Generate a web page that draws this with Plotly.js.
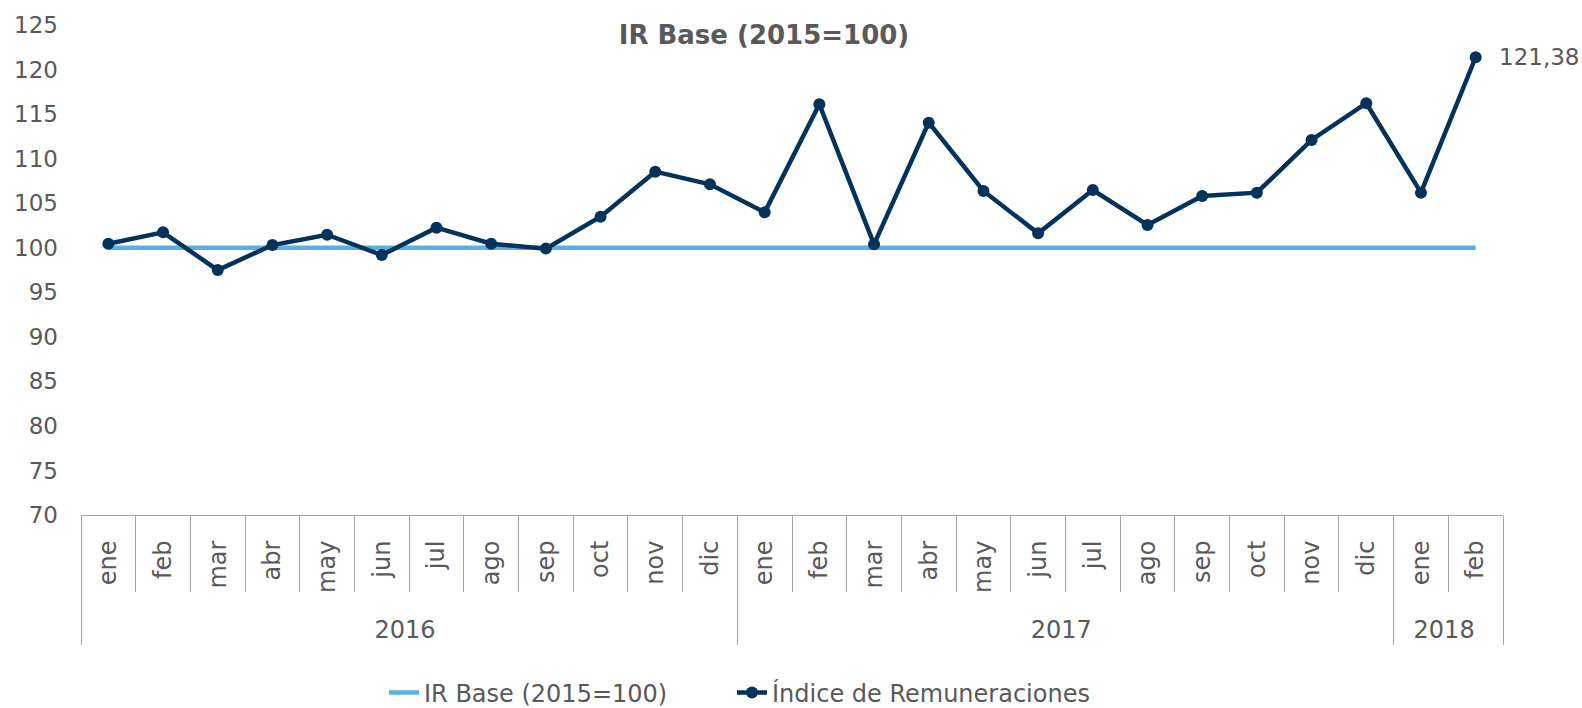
<!DOCTYPE html>
<html><head><meta charset="utf-8">
<script src="https://cdn.plot.ly/plotly-3.0.1.min.js"></script>
<style>html,body{margin:0;padding:0;background:#fff}#chart{width:1582px;height:708px}</style>
</head><body><div id="chart"></div>
<script>
const years = ['2016','2016','2016','2016','2016','2016','2016','2016','2016','2016','2016','2016',
               '2017','2017','2017','2017','2017','2017','2017','2017','2017','2017','2017','2017',
               '2018','2018'];
const months = ['ene','feb','mar','abr','may','jun','jul','ago','sep','oct','nov','dic',
                'ene','feb','mar','abr','may','jun','jul','ago','sep','oct','nov','dic',
                'ene','feb'];
const indiceRemuneraciones = [100.45,101.73,97.49,100.30,101.46,99.18,102.25,100.45,99.90,103.48,108.54,107.12,
                              103.97,116.11,100.38,114.04,106.37,101.62,106.48,102.55,105.81,106.18,112.10,116.22,
                              106.18,121.38];
const irBase = [100,100,100,100,100,100,100,100,100,100,100,100,
                100,100,100,100,100,100,100,100,100,100,100,100,
                100,100];
const yTicks = [70,75,80,85,90,95,100,105,110,115,120,125];

const gray = '#595959';
const fontFam = 'DejaVu Sans, sans-serif';
const n = months.length;
const boundaries = [];
for (let i = 0; i <= n; i++) boundaries.push(i - 0.5);
const lastIdx = n - 1;
const lastLabel = indiceRemuneraciones[lastIdx].toFixed(2).replace('.', ',');

const traces = [
  {
    x: [years, months], y: irBase, type: 'scatter', mode: 'lines',
    name: 'IR Base (2015=100)',
    line: {color: '#5aafe3', width: 4.5},
    hoverinfo: 'skip', legend: 'legend'
  },
  {
    x: [years, months], y: indiceRemuneraciones, type: 'scatter', mode: 'lines+markers',
    name: 'Índice de Remuneraciones',
    line: {color: '#03335a', width: 4.5},
    marker: {color: '#03335a', size: 12},
    hoverinfo: 'skip', legend: 'legend2'
  }
];

const legendBase = {
  orientation: 'h', xref: 'container', yref: 'container',
  y: 1 - 693/708, xanchor: 'left', yanchor: 'middle',
  font: {family: fontFam, size: 24, color: gray}
};

const layout = {
  width: 1582, height: 708,
  paper_bgcolor: '#fff', plot_bgcolor: '#fff',
  margin: {l: 81, r: 79, t: 25, b: 193},
  font: {family: fontFam, color: gray},
  title: {
    text: '<b>IR Base (2015=100)</b>',
    font: {family: fontFam, size: 26, color: gray},
    xref: 'container', yref: 'container', x: 764/1582, y: 1 - 35/708,
    xanchor: 'center', yanchor: 'middle'
  },
  showlegend: true,
  legend: Object.assign({}, legendBase, {x: 384/1582}),
  legend2: Object.assign({}, legendBase, {x: 732/1582}),
  xaxis: {
    type: 'multicategory',
    range: [-0.5, n - 0.5],
    showgrid: false, zeroline: false,
    showline: true, linecolor: '#a6a6a6', linewidth: 1,
    tickson: 'labels',
    ticks: 'outside', ticklen: 15, tickcolor: 'rgba(0,0,0,0)',
    tickangle: -90,
    tickfont: {family: fontFam, size: 24, color: gray},
    showdividers: true, dividercolor: '#a6a6a6', dividerwidth: 1,
    fixedrange: true
  },
  xaxis2: {
    overlaying: 'x', anchor: 'y', side: 'bottom',
    type: 'linear', range: [-0.5, n - 0.5],
    tickmode: 'array', tickvals: boundaries,
    ticks: 'outside', ticklen: 76, tickcolor: '#a6a6a6', tickwidth: 1,
    showticklabels: false, showgrid: false, zeroline: false, showline: false,
    fixedrange: true
  },
  yaxis: {
    range: [70, 125],
    tickmode: 'array', tickvals: yTicks,
    showgrid: false, zeroline: false, showline: false, ticks: '',
    tickfont: {family: fontFam, size: 23, color: gray},
    ticklabelstandoff: 22,
    fixedrange: true
  },
  annotations: [{
    xref: 'x2', yref: 'y', x: lastIdx, y: indiceRemuneraciones[lastIdx],
    text: lastLabel, showarrow: false, xanchor: 'left', yanchor: 'middle',
    xshift: 21,
    font: {family: fontFam, size: 23, color: gray}
  }]
};

Plotly.newPlot('chart', traces, layout, {displayModeBar: false, staticPlot: true});
</script>
</body></html>
